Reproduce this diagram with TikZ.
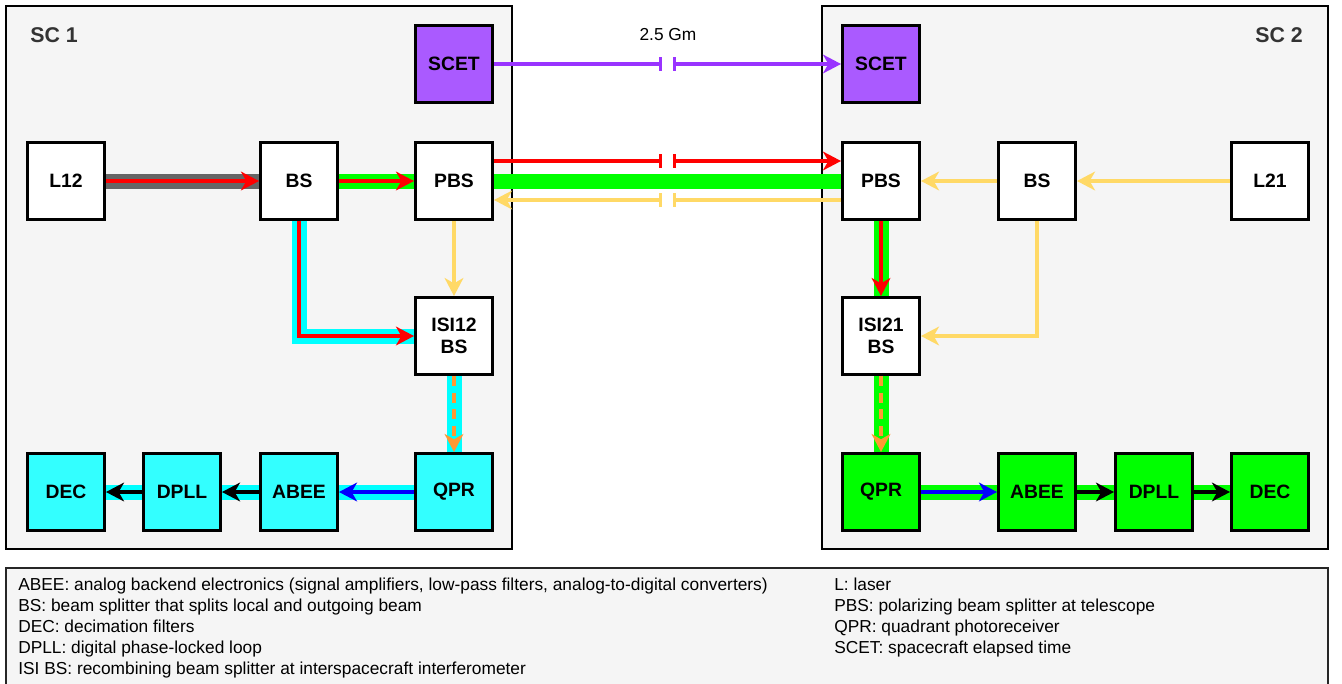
\documentclass[tikz,border=0pt]{standalone}
\usepackage{fontspec}
\setmainfont{Liberation Sans}
\usetikzlibrary{arrows.meta}
\definecolor{scetPurple}{RGB}{153,51,255}
\definecolor{scetFill}{RGB}{170,90,255}
\definecolor{beamYellow}{RGB}{255,217,102}
\definecolor{beamOrange}{RGB}{255,153,51}
\definecolor{beamGray}{RGB}{102,102,102}
\definecolor{beamCyan}{RGB}{0,255,255}
\definecolor{beamGreen}{RGB}{0,255,0}
\definecolor{beamRed}{RGB}{255,0,0}
\definecolor{beamBlue}{RGB}{0,0,255}
\definecolor{cyanFill}{RGB}{51,255,255}
\definecolor{scGray}{RGB}{245,245,245}
\tikzstyle{box}=[rectangle, draw=black, line width=2.2pt, minimum size=57.75pt, inner sep=0pt, align=center, font=\fontsize{14.5}{17}\selectfont\bfseries]
\tikzstyle{whiteV}=[box, fill=white]
\tikzstyle{cyanV}=[box, fill=cyanFill]
\tikzstyle{greenV}=[box, fill=beamGreen]
\tikzstyle{purpleV}=[box, fill=scetFill]
\tikzstyle{scBox}=[draw=black, fill=scGray, line width=1.4pt]
\tikzstyle{scLabel}=[text=black!80, font=\fontsize{16}{19}\selectfont\bfseries]
\tikzstyle{legend}=[anchor=base west, inner sep=0pt, font=\fontsize{13}{15}\selectfont]
\tikzstyle{tip}=[-{Stealth[length=13.5pt, width=14pt, inset=4pt]}]
\tikzstyle{edge}=[tip, line width=2.6pt]
\tikzstyle{edgeDash}=[edge, dash pattern=on 7.5pt off 5pt]
\tikzstyle{edgeCut}=[line width=2.6pt, -{Bar[width=10pt]}]
\tikzstyle{edgeCutTip}=[line width=2.6pt, {Bar[width=10pt]}-{Stealth[length=13.5pt, width=14pt, inset=4pt]}]
\tikzstyle{band}=[line width=11.25pt]

\begin{document}
\begin{tikzpicture}[x=0.75pt, y=-0.75pt]
      \useasboundingbox (0,0) rectangle (1342,683);
      % spacecraft and legend frames
      \draw[scBox] (6,6) rectangle (512,549);
      \draw[scBox] (822,6) rectangle (1328,549);
      \draw[scBox, draw=black!85, line width=1.1pt] (6,568) rectangle (1328,690);
      \node(sc1) [scLabel] at (54, 35){SC 1};
      \node(sc2) [scLabel] at (1279, 35){SC 2};
      % SC 1
      \node(scet1) [purpleV] at (454, 64){SCET};
      \node(l12) [whiteV] at (66, 181){L12};
      \node(bs1) [whiteV] at (299, 181){BS};
      \node(pbs1) [whiteV] at (454, 181){PBS};
      \node(isi12) [whiteV] at (454, 336){ISI12\\BS};
      \node(qpr1) [cyanV] at (454, 492){QPR};
      \node(abee1) [cyanV] at (299, 492){ABEE};
      \node(dpll1) [cyanV] at (182, 492){DPLL};
      \node(dec1) [cyanV] at (66, 492){DEC};
      % SC 2
      \node(scet2) [purpleV] at (881, 64){SCET};
      \node(pbs2) [whiteV] at (881, 181){PBS};
      \node(bs2) [whiteV] at (1037, 181){BS};
      \node(l21) [whiteV] at (1270, 181){L21};
      \node(isi21) [whiteV] at (881, 336){ISI21\\BS};
      \node(qpr2) [greenV] at (881, 492){QPR};
      \node(abee2) [greenV] at (1037, 492){ABEE};
      \node(dpll2) [greenV] at (1154, 492){DPLL};
      \node(dec2) [greenV] at (1270, 492){DEC};
      % link between the spacecraft
      \node(dist) [font=\fontsize{13}{15}\selectfont] at (668, 35){2.5 Gm};
      \coordinate(pCut1) at (662, 64);
      \coordinate(pCut2) at (673, 64);
      \coordinate(rCut1) at (662, 161);
      \coordinate(rCut2) at (673, 161);
      \coordinate(yCut1) at (662, 200);
      \coordinate(yCut2) at (673, 200);
      \draw[edgeCut, scetPurple] (scet1) to (pCut1);
      \draw[edgeCutTip, scetPurple] (pCut2) to (scet2);
      \draw[band, beamGreen] (pbs1) to (pbs2);
      \draw[edgeCut, beamRed] (pbs1.east |- rCut1) to (rCut1);
      \draw[edgeCutTip, beamRed] (rCut2) to (pbs2.west |- rCut2);
      \draw[edgeCut, beamYellow] (pbs2.west |- yCut2) to (yCut2);
      \draw[edgeCutTip, beamYellow] (yCut1) to (pbs1.east |- yCut1);
      % beams in SC 1
      \draw[band, beamGray] (l12) to (bs1);
      \draw[edge, beamRed] (l12) to (bs1);
      \draw[band, beamGreen] (bs1) to (pbs1);
      \draw[edge, beamRed] (bs1) to (pbs1);
      \draw[band, beamCyan] (bs1) |- (isi12);
      \draw[edge, beamRed] (bs1) |- (isi12);
      \draw[edge, beamYellow] (pbs1) to (isi12);
      \draw[band, beamCyan] (isi12) to (qpr1);
      \draw[edgeDash, beamOrange] (isi12) to (qpr1);
      \draw[band, beamCyan] (qpr1) to (abee1);
      \draw[edge, beamBlue] (qpr1) to (abee1);
      \draw[band, beamCyan] (abee1) to (dpll1);
      \draw[edge, black] (abee1) to (dpll1);
      \draw[band, beamCyan] (dpll1) to (dec1);
      \draw[edge, black] (dpll1) to (dec1);
      % beams in SC 2
      \draw[edge, beamYellow] (l21) to (bs2);
      \draw[edge, beamYellow] (bs2) to (pbs2);
      \draw[edge, beamYellow] (bs2) |- (isi21);
      \draw[band, beamGreen] (pbs2) to (isi21);
      \draw[edge, beamRed] (pbs2) to (isi21);
      \draw[band, beamGreen] (isi21) to (qpr2);
      \draw[edgeDash, beamOrange] (isi21) to (qpr2);
      \draw[band, beamGreen] (qpr2) to (abee2);
      \draw[edge, beamBlue] (qpr2) to (abee2);
      \draw[band, beamGreen] (abee2) to (dpll2);
      \draw[edge, black] (abee2) to (dpll2);
      \draw[band, beamGreen] (dpll2) to (dec2);
      \draw[edge, black] (dpll2) to (dec2);
      % legend
      \node(leg1) [legend] at (18, 590){ABEE: analog backend electronics (signal amplifiers, low-pass filters, analog-to-digital converters)};
      \node(leg2) [legend] at (18, 611){BS: beam splitter that splits local and outgoing beam};
      \node(leg3) [legend] at (18, 632){DEC: decimation filters};
      \node(leg4) [legend] at (18, 653){DPLL: digital phase-locked loop};
      \node(leg5) [legend] at (18, 674){ISI BS: recombining beam splitter at interspacecraft interferometer};
      \node(leg6) [legend] at (834, 590){L: laser};
      \node(leg7) [legend] at (834, 611){PBS: polarizing beam splitter at telescope};
      \node(leg8) [legend] at (834, 632){QPR: quadrant photoreceiver};
      \node(leg9) [legend] at (834, 653){SCET: spacecraft elapsed time};
    \end{tikzpicture}
\end{document}
